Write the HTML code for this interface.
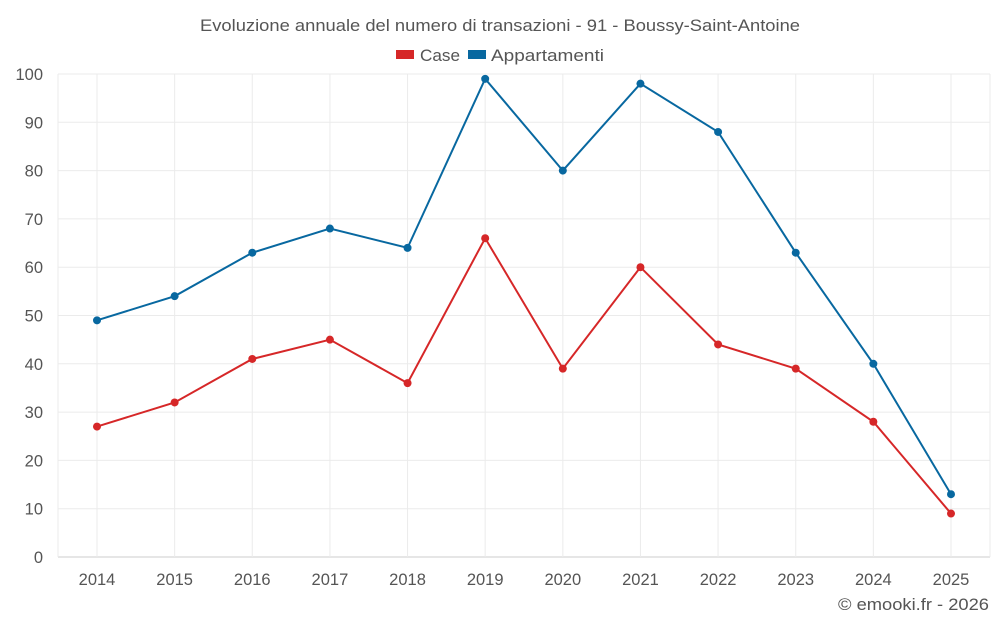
<!DOCTYPE html>
<html><head><meta charset="utf-8"><style>
body{margin:0;background:#fff;font-family:"Liberation Sans",sans-serif;}
svg text{font-family:"Liberation Sans",sans-serif;fill:#555;}
</style></head><body>
<svg id="chart" width="1000" height="625">
<text x="200" y="31" textLength="600" lengthAdjust="spacingAndGlyphs" font-size="16.5">Evoluzione annuale del numero di transazioni - 91 - Boussy-Saint-Antoine</text>
<g>
<g><rect x="396" y="50" width="18" height="9" fill="#d62728"/><text x="420" y="61" textLength="40" lengthAdjust="spacingAndGlyphs" font-size="16.5">Case</text></g>
<g><rect x="468" y="50" width="18" height="9" fill="#0868a0"/><text x="491" y="61" textLength="113" lengthAdjust="spacingAndGlyphs" font-size="16.5">Appartamenti</text></g>
</g>
<g id="grid"></g><g id="axes"></g><g id="series"></g>
<text x="838" y="610" textLength="151" lengthAdjust="spacingAndGlyphs" font-size="16.5">© emooki.fr - 2026</text>
</svg>
<script>
const years=[2014,2015,2016,2017,2018,2019,2020,2021,2022,2023,2024,2025];
const caseVals=[27,32,41,45,36,66,39,60,44,39,28,9];
const appVals=[49,54,63,68,64,99,80,98,88,63,40,13];
const yTicks=[0,10,20,30,40,50,60,70,80,90,100];
const NS="http://www.w3.org/2000/svg";
const L=58,R=990,T=74,B=557;
const x=i=>97+i*(951-97)/(years.length-1);
const y=v=>B-(v/100)*(B-T);
function mk(t,a,p){const e=document.createElementNS(NS,t);for(const k in a)e.setAttribute(k,a[k]);p.appendChild(e);return e;}
const grid=document.getElementById('grid'),axes=document.getElementById('axes'),ser=document.getElementById('series');
yTicks.forEach(v=>{
 const l=mk('line',{x1:L,x2:R,y1:y(v),y2:y(v),stroke:v===0?'#ccc':'#ebebeb'},grid);
 
 
 const t=mk('text',{x:43,y:y(v)+6,'text-anchor':'end','font-size':16.5},axes);t.textContent=v;
 
 
});
years.forEach((yr,i)=>{
 const l=mk('line',{x1:x(i),x2:x(i),y1:T,y2:B,stroke:'#ebebeb'},grid);
 
 
 const t=mk('text',{x:x(i),y:585,'text-anchor':'middle','font-size':16.5},axes);t.textContent=yr;
 
 
});
[[L],[R]].forEach(([xx])=>{const l=mk('line',{x1:xx,x2:xx,y1:T,y2:B,stroke:'#ebebeb'},grid);
 
 });
function series(vals,color,name){
 const p=mk('polyline',{points:vals.map((v,i)=>x(i)+','+y(v)).join(' '),fill:'none',stroke:color,'stroke-width':2},ser);
 
 
 vals.forEach((v,i)=>{const c=mk('circle',{cx:x(i),cy:y(v),r:4,fill:color},ser);
  
  });
}
series(appVals,'#0868a0','appartamenti');
series(caseVals,'#d62728','case');
</script>
</body></html>
